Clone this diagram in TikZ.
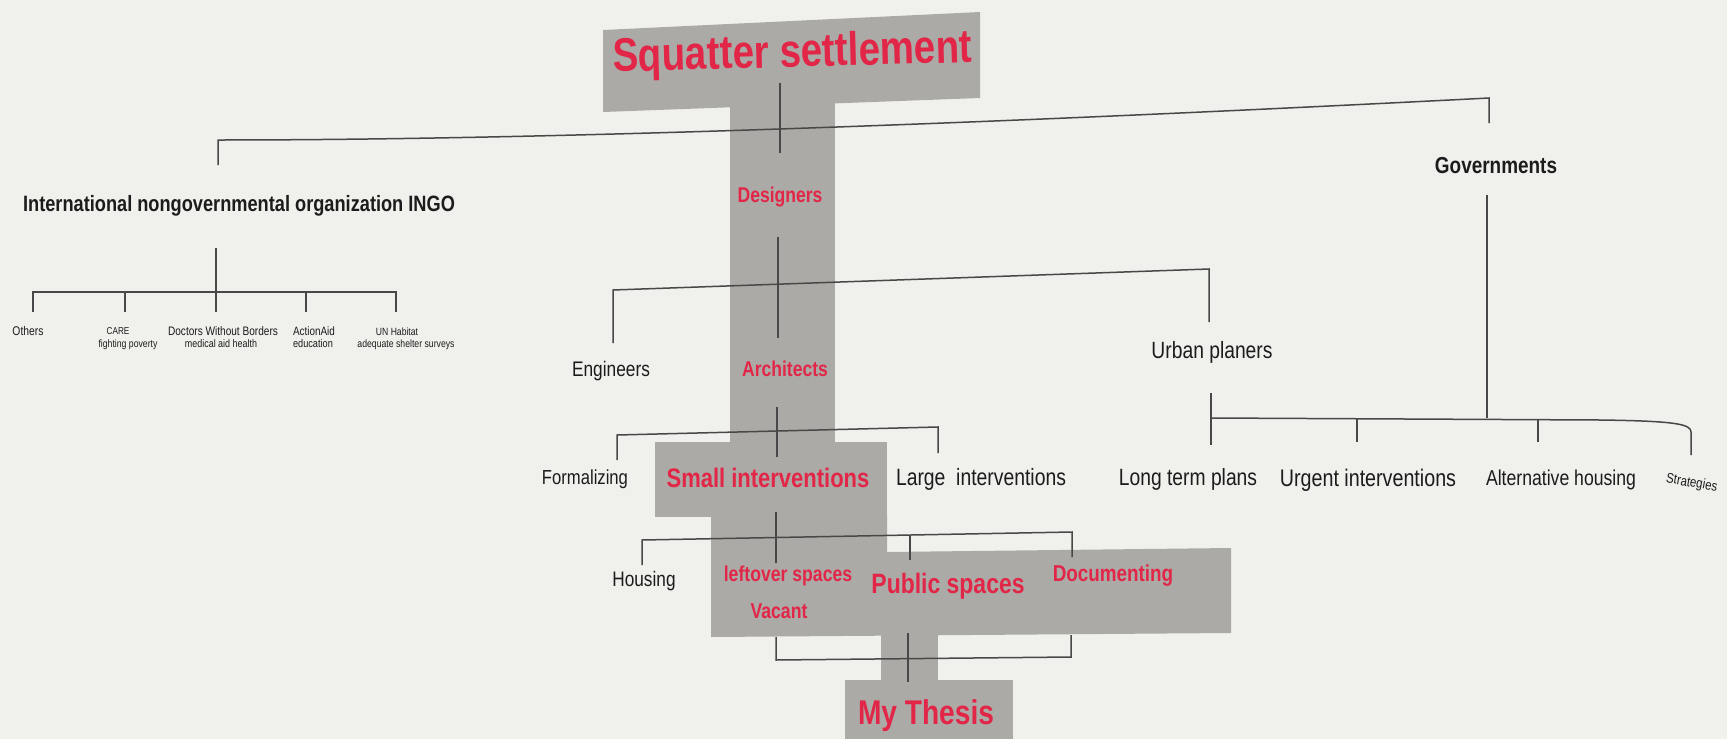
\documentclass[tikz,border=0pt]{standalone}
\usepackage{fontspec}
\newfontfamily\nar[FakeStretch=0.82]{Liberation Sans}
\newcommand\fsz[1]{\fontsize{#1}{#1}\selectfont}
\definecolor{bgc}{RGB}{240,241,237}
\definecolor{boxg}{RGB}{172,170,166}
\definecolor{redc}{RGB}{226,38,72}
\definecolor{ink}{RGB}{28,28,28}
\definecolor{linec}{RGB}{72,72,72}
\tikzset{
  lbl/.style={font=\nar, text=ink, inner sep=0pt, anchor=base},
  blbl/.style={lbl, font=\nar\bfseries},
  rlbl/.style={lbl, font=\nar\bfseries, text=redc},
  conn/.style={draw=linec, line width=1.5pt, line join=miter},
  graybox/.style={fill=boxg, draw=none}
}
\begin{document}
\begin{tikzpicture}[x=1pt,y=-1pt]
\useasboundingbox (0,0) rectangle (1727,739);
\fill[bgc] (0,0) rectangle (1727,739);

% ---- gray backgrounds ----
\fill[graybox] (603,30) -- (980,12) -- (980,98) -- (603,112) -- cycle;
\fill[graybox] (730,100) rectangle (835,445);
\fill[graybox] (655,442) rectangle (887,517);
\fill[graybox] (711,515) -- (887,515) -- (887,552) -- (1231,548) -- (1231,633) -- (711,637) -- cycle;
\fill[graybox] (881,630) rectangle (938,682);
\fill[graybox] (845,680) rectangle (1013,739);

% ---- coordinates for connectors ----
\coordinate (ta) at (780,83);   \coordinate (tb) at (780,153);
\coordinate (ga) at (1489,123); \coordinate (gb) at (1489,98);
\coordinate (ia) at (218,140);  \coordinate (ib) at (218,165);
\coordinate (ic) at (216,248);  \coordinate (id) at (216,312);
\coordinate (h1) at (33,292);   \coordinate (h1b) at (33,312);
\coordinate (h2) at (125,292);  \coordinate (h2b) at (125,312);
\coordinate (h4) at (306,292);  \coordinate (h4b) at (306,312);
\coordinate (h5) at (396,292);  \coordinate (h5b) at (396,312);
\coordinate (da) at (778,237);  \coordinate (db) at (778,338);
\coordinate (ea) at (613,343);  \coordinate (eb) at (613,290);
\coordinate (ua) at (1209,269); \coordinate (ub) at (1209,322);
\coordinate (aa) at (777,407);  \coordinate (ab) at (777,457);
\coordinate (fa) at (617,460);  \coordinate (fb) at (617,435);
\coordinate (la) at (938,427);  \coordinate (lb) at (938,453);
\coordinate (sa) at (776,512);  \coordinate (sb) at (776,563);
\coordinate (hoa) at (642,565); \coordinate (hob) at (642,540);
\coordinate (doa) at (1072,532);\coordinate (dob) at (1072,557);
\coordinate (pa) at (910,535);  \coordinate (pb) at (910,560);
\coordinate (ma) at (776,637);  \coordinate (mb) at (776,660);
\coordinate (mc) at (1071,657); \coordinate (md) at (1071,635);
\coordinate (me) at (908,633);  \coordinate (mf) at (908,682);
\coordinate (gva) at (1487,195);\coordinate (gvb) at (1487,418);
\coordinate (lta) at (1211,393);\coordinate (ltb) at (1211,445);
\coordinate (lth) at (1211,418);
\coordinate (uga) at (1357,418);\coordinate (ugb) at (1357,442);
\coordinate (ala) at (1538,419);\coordinate (alb) at (1538,442);
\coordinate (sra) at (1600,420);\coordinate (srb) at (1691,432);
\coordinate (src) at (1691,455);

% ---- connectors ----
\draw[conn] (ta) -- (tb);
\draw[conn] (ga) -- (gb) .. controls (1100,118) and (600,140) .. (ia) -- (ib);
\draw[conn] (ic) -- (id);
\draw[conn] (h1b) -- (h1) -- (h5) -- (h5b);
\draw[conn] (h2) -- (h2b);
\draw[conn] (h4) -- (h4b);
\draw[conn] (da) -- (db);
\draw[conn] (ea) -- (eb) -- (ua) -- (ub);
\draw[conn] (aa) -- (ab);
\draw[conn] (fa) -- (fb) -- (la) -- (lb);
\draw[conn] (sa) -- (sb);
\draw[conn] (hoa) -- (hob) -- (doa) -- (dob);
\draw[conn] (pa) -- (pb);
\draw[conn] (ma) -- (mb) -- (mc) -- (md);
\draw[conn] (me) -- (mf);
\draw[conn] (gva) -- (gvb);
\draw[conn] (lta) -- (ltb);
\draw[conn] (lth) -- (sra) .. controls (1675,421) and (1691,424) .. (srb) -- (src);
\draw[conn] (uga) -- (ugb);
\draw[conn] (ala) -- (alb);

% ---- red labels ----
\node[rlbl, rotate=1.5] (ttl) at (793,67) {\fsz{47}Squatter settlement};
\node[rlbl] (des) at (780,202) {\fsz{21.4}Designers};
\node[rlbl] (arc) at (785,376) {\fsz{21.4}Architects};
\node[rlbl] (sml) at (768,487) {\fsz{26.8}Small interventions};
\node[rlbl] (lft) at (788,581) {\fsz{21.5}leftover spaces};
\node[rlbl] (vac) at (779,618) {\fsz{21.5}Vacant};
\node[rlbl] (pub) at (948,593) {\fsz{28}Public spaces};
\node[rlbl] (doc) at (1113,581) {\fsz{23}Documenting};
\node[rlbl] (the) at (926,724) {\fsz{34.3}My Thesis};

% ---- black labels ----
\node[blbl] (ingo) at (239,211) {\fsz{22.2}International nongovernmental organization INGO};
\node[blbl] (gov) at (1496,173) {\fsz{23.1}Governments};
\node[lbl] (eng) at (611,376) {\fsz{21.1}Engineers};
\node[lbl] (urb) at (1212,358) {\fsz{23.5}Urban planers};
\node[lbl] (frm) at (585,484) {\fsz{20.3}Formalizing};
\node[lbl] (lrg) at (981,485) {\fsz{23.6}Large~~interventions};
\node[lbl] (hou) at (644,586) {\fsz{21}Housing};
\node[lbl] (ltp) at (1188,485) {\fsz{23.5}Long term plans};
\node[lbl] (urg) at (1368,486) {\fsz{24}Urgent interventions};
\node[lbl] (alt) at (1561,485) {\fsz{21.5}Alternative housing};
\node[lbl, rotate=-10] (str) at (1691,487) {\fsz{14}Strategies};

% ---- small INGO children ----
\node[lbl] (oth) at (28,335) {\fsz{12.6}Others};
\node[lbl] (care) at (118,334) {\fsz{10}CARE};
\node[lbl] (carb) at (128,347) {\fsz{10.6}fighting poverty};
\node[lbl] (dwb) at (223,335) {\fsz{12.3}Doctors Without Borders};
\node[lbl] (dwbb) at (221,347) {\fsz{10.9}medical aid health};
\node[lbl] (aid) at (314,335) {\fsz{12.1}ActionAid};
\node[lbl] (aidb) at (313,347) {\fsz{11.2}education};
\node[lbl] (unh) at (397,335) {\fsz{10.5}UN Habitat};
\node[lbl] (unhb) at (406,347) {\fsz{10.6}adequate shelter surveys};
\end{tikzpicture}
\end{document}
